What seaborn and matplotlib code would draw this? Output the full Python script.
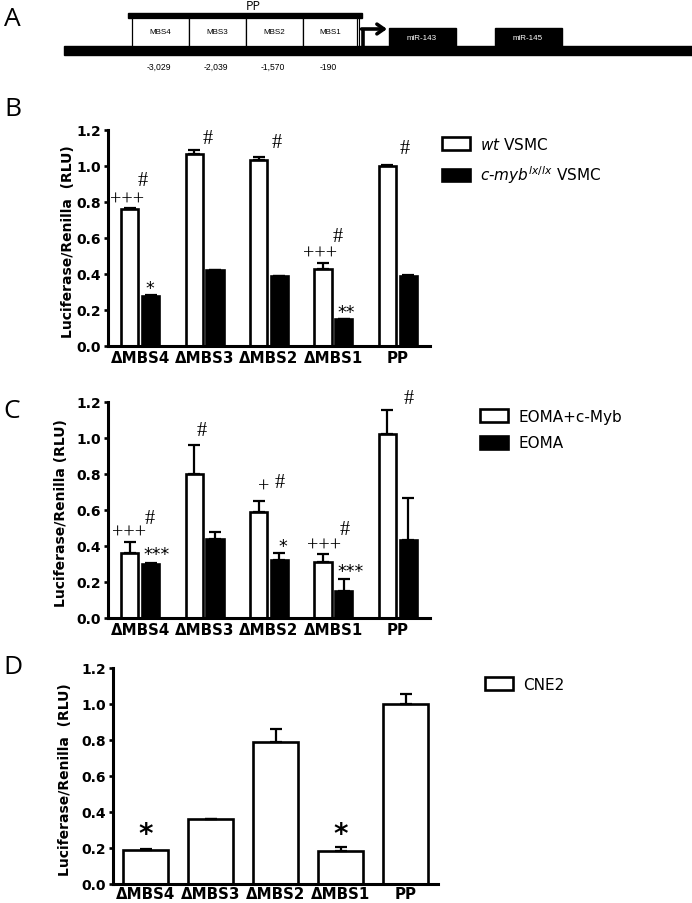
import numpy as np
import pandas as pd
import seaborn as sns
import matplotlib.pyplot as plt
from matplotlib.patches import Rectangle

# Data
constructs = ["ΔMBS4", "ΔMBS3", "ΔMBS2", "ΔMBS1", "PP"]

# panel B
b_groups = ["wt VSMC", "c-myb lx/lx VSMC"]
b_wt = [0.76, 1.065, 1.035, 0.43, 1.0]
b_wt_err = [0.005, 0.025, 0.015, 0.03, 0.008]
b_ko = [0.28, 0.42, 0.39, 0.15, 0.39]
b_ko_err = [0.005, 0.004, 0.0, 0.0, 0.005]

# panel C
c_groups = ["EOMA+c-Myb", "EOMA"]
c_myb = [0.36, 0.80, 0.59, 0.31, 1.02]
c_myb_err = [0.06, 0.16, 0.06, 0.045, 0.135]
c_eoma = [0.30, 0.44, 0.32, 0.15, 0.435]
c_eoma_err = [0.005, 0.04, 0.04, 0.065, 0.23]

# panel D
d_groups = ["CNE2"]
d_cne2 = [0.19, 0.36, 0.79, 0.185, 1.0]
d_cne2_err = [0.005, 0.0, 0.07, 0.02, 0.055]

# significance marks: (text, x, y)
b_marks = [("+++", -0.2, 0.81), ("#", 0.04, 0.92), ("*", 0.15, 0.32),
           ("#", 1.05, 1.15), ("#", 2.12, 1.13),
           ("+++", 2.79, 0.51), ("#", 3.07, 0.61), ("**", 3.2, 0.19),
           ("#", 4.11, 1.10)]
c_marks = [("+++", -0.17, 0.47), ("#", 0.14, 0.55), ("***", 0.25, 0.355),
           ("#", 0.96, 1.04),
           ("+", 1.91, 0.73), ("#", 2.16, 0.755), ("*", 2.22, 0.40),
           ("+++", 2.85, 0.40), ("#", 3.18, 0.49), ("***", 3.27, 0.26),
           ("#", 4.17, 1.22)]
d_marks = [("*", 0.0, 0.28), ("*", 3.0, 0.28)]

# promoter diagram
mbs_names = ["MBS4", "MBS3", "MBS2", "MBS1"]
mbs_pos = ["-3,029", "-2,039", "-1,570", "-190"]
mirs = ["miR-143", "miR-145"]

W, H = 692, 904
fig = plt.figure(figsize=(W / 100, H / 100), dpi=100)
sns.set_style("white")
plt.rcParams["font.family"] = ["DejaVu Sans"]
plt.rcParams.update({"text.color": "black", "axes.labelcolor": "black",
                     "xtick.color": "black", "ytick.color": "black",
                     "axes.edgecolor": "black"})

LW = 1.9


def px_axes(left, top, right, bottom):
    return fig.add_axes([left / W, 1 - bottom / H, (right - left) / W, (bottom - top) / H])


def bar_panel(ax, groups, means, errs, colors, width, gap, marks, mark_font, xpad=3.2):
    rows = []
    for g, m in zip(groups, means):
        for c, v in zip(constructs, m):
            rows.append({"construct": c, "group": g, "value": v})
    df = pd.DataFrame(rows)
    sns.barplot(data=df, x="construct", y="value", hue="group", hue_order=groups,
                palette=colors, edgecolor="black", linewidth=LW, width=width,
                gap=gap, errorbar=None, ax=ax, legend=True)
    # upward error bars
    for cont, e in zip(ax.containers, errs):
        xs = [p.get_x() + p.get_width() / 2 for p in cont.patches]
        ys = [p.get_height() for p in cont.patches]
        ax.errorbar(xs, ys, yerr=[np.zeros(len(e)), e], fmt="none",
                    ecolor="black", elinewidth=1.6, capsize=4.3, capthick=1.6,
                    zorder=1)
    for t, x, y in marks:
        kw = mark_font(t)
        ax.text(x, y, t, ha="center", va="center", clip_on=False, **kw)
    ax.set_xlim(-0.5, 4.5)
    ax.set_ylim(0, 1.2)
    ax.set_yticks([0.0, 0.2, 0.4, 0.6, 0.8, 1.0, 1.2])
    ax.set_yticklabels([f"{v:.1f}" for v in ax.get_yticks()],
                       fontweight="bold", fontsize=10)
    ax.set_xticks(range(5))
    ax.set_xticklabels(constructs, fontweight="bold", fontsize=10.8)
    ax.tick_params(axis="x", length=0, pad=xpad)
    ax.tick_params(axis="y", length=3, width=LW, pad=2, direction="out", left=True)
    ax.set_xlabel("")
    sns.despine(ax=ax)
    for s in ["left", "bottom"]:
        ax.spines[s].set_linewidth(2.2)
    ax.set_ylabel("Luciferase/Renilla  (RLU)", fontweight="bold", fontsize=10)


def font_bc(t):
    if "*" in t:
        return dict(fontsize=12.5, family="DejaVu Sans")
    return dict(fontsize=14.5, family="Liberation Serif")


def font_d(t):
    return dict(fontsize=20, fontweight="bold", family="DejaVu Sans")


def legend(ax, x, y, labels):
    h, _ = ax.get_legend_handles_labels()
    ax.legend(h, labels, loc="upper left", bbox_to_anchor=(x / W, 1 - y / H),
              bbox_transform=fig.transFigure, frameon=False, fontsize=11,
              handlelength=1.8, handleheight=0.9, handletextpad=0.7,
              labelspacing=0.75, borderaxespad=0, borderpad=0)


# ---- panel A: promoter diagram ----
axa = px_axes(0, 0, W, 82)
axa.set_xlim(0, W)
axa.set_ylim(82, 0)
axa.axis("off")
axa.add_patch(Rectangle((64, 47), 628, 9, color="black"))
axa.add_patch(Rectangle((128, 14), 234, 5, color="black"))
box_x = [132, 189, 246, 303]
box_w = [57, 57, 57, 54]
for bx, bw, name, pos in zip(box_x, box_w, mbs_names, mbs_pos):
    axa.add_patch(Rectangle((bx, 19), bw, 28, facecolor="white",
                            edgecolor="black", lw=0.9))
    axa.text(bx + bw / 2, 33, name, ha="center", va="center", fontsize=5.8,
             family="Liberation Sans")
    axa.text(bx + bw / 2 - 2, 67, pos, ha="center", va="center", fontsize=6.2,
             family="Liberation Sans")
axa.plot([359, 359], [19, 47], color="black", lw=0.8)
axa.plot([362.5, 362.5], [47, 30], color="black", lw=2.6, solid_capstyle="butt")
axa.annotate("", xy=(387, 30), xytext=(361.5, 30),
             arrowprops=dict(arrowstyle="->,head_length=0.5,head_width=0.35",
                             lw=2.6, color="black", shrinkA=0, shrinkB=0))
for mx, name in zip([389, 495], mirs):
    axa.add_patch(Rectangle((mx, 29), 67, 18, color="black"))
    axa.text(mx + 33, 38, name, ha="center", va="center", fontsize=5.8,
             color="white", family="Liberation Sans")
axa.text(253, 6, "PP", ha="center", va="center", fontsize=9, family="Open Sans")
fig.text(12 / W, 1 - 20 / H, "A", ha="center", va="center", fontsize=19,
         family="Open Sans")

# ---- panel B ----
axb = px_axes(108, 131, 430, 347)
bar_panel(axb, b_groups, [b_wt, b_ko], [b_wt_err, b_ko_err], ["white", "black"],
          0.65, 0.18, b_marks, font_bc)
axb.yaxis.set_label_coords(-0.102, 0.49)
legend(axb, 442, 137, ["$\\it{wt}$ VSMC", "$\\it{c}$-$\\it{myb}^{lx/lx}$ VSMC"])
fig.text(13 / W, 1 - 110 / H, "B", ha="center", va="center", fontsize=19,
         family="Open Sans")

# ---- panel C ----
axc = px_axes(108, 403, 430, 619)
bar_panel(axc, c_groups, [c_myb, c_eoma], [c_myb_err, c_eoma_err], ["white", "black"],
          0.65, 0.18, c_marks, font_bc)
axc.set_ylabel("Luciferase/Renilla (RLU)", fontweight="bold", fontsize=10)
axc.yaxis.set_label_coords(-0.124, 0.49)
legend(axc, 480, 410, c_groups)
fig.text(12 / W, 1 - 412 / H, "C", ha="center", va="center", fontsize=19,
         family="Open Sans")

# ---- panel D ----
axd = px_axes(113, 669, 438, 885)
bar_panel(axd, d_groups, [d_cne2], [d_cne2_err], ["white"],
          0.69, 0, d_marks, font_d, xpad=1.5)
axd.yaxis.set_label_coords(-0.126, 0.49)
legend(axd, 485, 678, d_groups)
fig.text(13 / W, 1 - 668 / H, "D", ha="center", va="center", fontsize=19,
         family="Open Sans")

fig.savefig("out.png", dpi=100)
